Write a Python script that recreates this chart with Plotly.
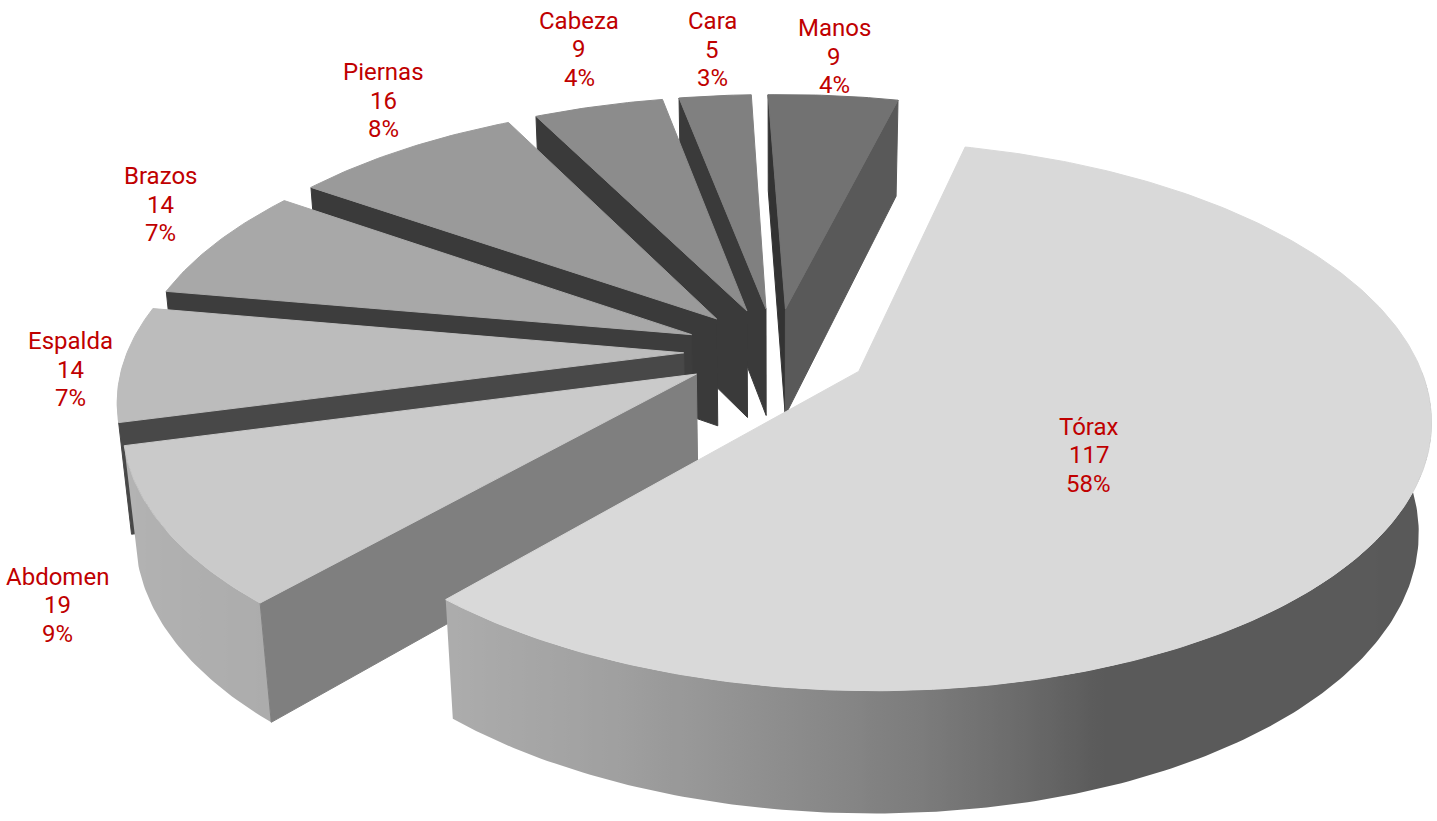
import numpy as np
import plotly.graph_objects as go

# ---- data -------------------------------------------------------------
parts = ["Tórax", "Abdomen", "Espalda", "Brazos", "Piernas", "Cabeza", "Cara", "Manos"]
counts = [117, 19, 14, 14, 16, 9, 5, 9]

# ---- styles -----------------------------------------------------------
top_colors = ["#d9d9d9", "#cacaca", "#bcbcbc", "#a8a8a8", "#9a9a9a", "#8c8c8c", "#808080", "#727272"]
start_wall_colors = ["#6e6e6e", "#7f7f7f", "#484848", "#3d3d3d", "#3a3a3a", "#3a3a3a", "#3a3a3a", "#333333"]
end_wall_colors = ["#5a5a5a", "#7f7f7f", "#484848", "#3d3d3d", "#3a3a3a", "#3a3a3a", "#3a3a3a", "#595959"]
# pixel nudges of each label block from its slice anchor (x right, y down)
label_nudges = [(-5, 26), (-107, 77), (-53, 6), (-56, -38), (-20, -49), (-19, -57), (-3, -46), (1, -39)]
LABEL_COLOR = "#c00000"
LABEL_FONT = "Roboto"
LABEL_SIZE = 24
LINE_GAP = 28.5

# outer rim shading by facing angle (degrees clockwise from the back)
rim_angles = [90, 160, 167, 176, 189, 203, 220, 237, 254, 270]
rim_levels = [89, 90, 106, 124, 143, 160, 172, 176, 180, 184]

# ---- view -------------------------------------------------------------
TILT = np.radians(28.0)
DIST = 5.52
THICK = 0.225
EXPLODE = 0.166
START = 14.0
SCALE = 556.0
CX, CY = 776.0, 351.0
W, H = 1437, 821

sin_t, cos_t = np.sin(TILT), np.cos(TILT)


def project(X, Y, Z):
    X = np.asarray(X, float)
    Y = np.asarray(Y, float)
    Z = np.asarray(Z, float) * np.ones_like(X)
    v = Y * sin_t + Z * cos_t
    w = Y * cos_t - Z * sin_t
    s = DIST / (DIST + w)
    return X * s, v * s


def rim(ox, oy, th_deg, r=1.0):
    t = np.radians(th_deg)
    return ox + r * np.sin(t), oy + r * np.cos(t)


def arc(a, b):
    n = max(2, int(abs(b - a) / 0.75) + 2)
    return np.linspace(a, b, n)


def grey(level):
    g = int(round(level))
    return f"rgb({g},{g},{g})"


def poly(fig, xs, ys, color, gradient=None):
    kw = dict(x=list(xs) + [xs[0]], y=list(ys) + [ys[0]], mode="lines",
              fill="toself", hoverinfo="skip", showlegend=False)
    kw["fillcolor"] = color
    if gradient is None:
        kw["line"] = dict(color=color, width=1)
    else:
        kw["line"] = dict(width=0)
        kw["fillgradient"] = gradient
    fig.add_trace(go.Scatter(**kw))


# ---- slice geometry ---------------------------------------------------
total = sum(counts)
spans = np.array(counts) / total * 360.0
starts = START + np.concatenate([[0], np.cumsum(spans)[:-1]])
ends = starts + spans
mids = (starts + ends) / 2

# percentages rounded so they add up to 100
raw = np.array(counts) / total * 100
pct = np.floor(raw).astype(int)
for i in np.argsort(-(raw - pct), kind="stable")[: 100 - pct.sum()]:
    pct[i] += 1

offsets = [(EXPLODE * np.sin(np.radians(m)), EXPLODE * np.cos(np.radians(m))) for m in mids]


def nearest(i):
    ox, oy = offsets[i]
    th = arc(starts[i], ends[i])
    _, Y = rim(ox, oy, th)
    return min(Y.min(), oy)


order = sorted(range(len(parts)), key=nearest, reverse=True)

fig = go.Figure()

for i in order:
    ox, oy = offsets[i]
    a, b = starts[i], ends[i]

    # outer curved wall (front half only)
    lo, hi = max(a, 90.0), min(b, 270.0)
    if hi > lo:
        th = arc(lo, hi)
        X, Y = rim(ox, oy, th)
        tx, ty = project(X, Y, 0.0)
        bx, by = project(X, Y, -THICK)
        xs = np.concatenate([tx, bx[::-1]])
        ys = np.concatenate([ty, by[::-1]])
        order_x = np.argsort(tx)
        sx = tx[order_x]
        lv = np.interp(th[order_x], rim_angles, rim_levels)
        x0, x1 = sx[0], sx[-1]
        stops, last = [], -1.0
        for xv, l in zip(sx, lv):
            p = (xv - x0) / (x1 - x0) if x1 > x0 else 0.0
            if p > last + 1e-6:
                stops.append([float(p), grey(l)])
                last = p
        stops[0][0] = 0.0
        stops[-1][0] = 1.0
        grad = dict(type="horizontal", start=float(x0), stop=float(x1), colorscale=stops)
        poly(fig, xs, ys, grey(np.mean(lv)), grad)

    # radial walls facing the viewer
    for ang, col, visible in ((a, start_wall_colors[i], np.sin(np.radians(a)) < 0),
                              (b, end_wall_colors[i], np.sin(np.radians(b)) > 0)):
        if visible:
            ex, ey = rim(ox, oy, ang)
            X = np.array([ox, ex, ex, ox])
            Y = np.array([oy, ey, ey, oy])
            Z = np.array([0.0, 0.0, -THICK, -THICK])
            px, py = project(X, Y, Z)
            poly(fig, px, py, col)

    # top face
    th = arc(a, b)
    X, Y = rim(ox, oy, th)
    X = np.concatenate([[ox], X])
    Y = np.concatenate([[oy], Y])
    px, py = project(X, Y, 0.0)
    poly(fig, px, py, top_colors[i])

# ---- labels -----------------------------------------------------------
annotations = []
for i, name in enumerate(parts):
    ox, oy = offsets[i]
    r = 0.45 if spans[i] > 90 else 1.0
    X, Y = rim(ox, oy, mids[i], r)
    ax, ay = project(X, Y, 0.0)
    nx, ny = label_nudges[i]
    for k, line in enumerate([name, str(counts[i]), f"{pct[i]}%"]):
        annotations.append(dict(
            x=float(ax), y=float(ay), xref="x", yref="y", text=line, showarrow=False,
            xanchor="center", yanchor="middle",
            xshift=nx, yshift=-(ny + (k - 1) * LINE_GAP),
            font=dict(family=LABEL_FONT, size=LABEL_SIZE, color=LABEL_COLOR),
        ))

fig.update_layout(
    width=W, height=H,
    margin=dict(l=0, r=0, t=0, b=0),
    paper_bgcolor="white", plot_bgcolor="white",
    xaxis=dict(range=[(0 - CX) / SCALE, (W - CX) / SCALE], visible=False, fixedrange=True),
    yaxis=dict(range=[(CY - H) / SCALE, CY / SCALE], visible=False, fixedrange=True),
    annotations=annotations,
    showlegend=False,
)

fig.write_html("out.html")
